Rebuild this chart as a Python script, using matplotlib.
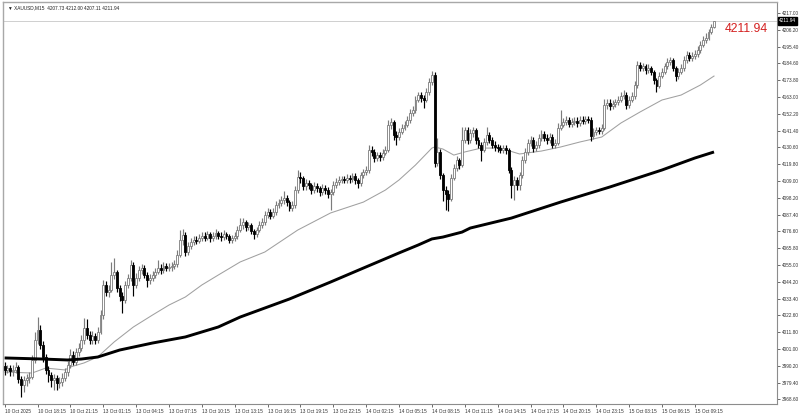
import matplotlib
matplotlib.use("Agg")
import matplotlib.pyplot as plt
import numpy as np

# ---------------- data ----------------
first_open = 3990.0
closes = [
    3987.6, 3988.9, 3986.9, 3987.6, 3989.5, 3981.8, 3977.9, 3981.1, 3982.4, 3983.0,
    3994.0, 4006.8, 4013.3, 4003.6, 3995.9, 3987.6, 3984.3, 3981.1, 3982.4, 3979.2,
    3979.8, 3982.4, 3986.2, 3990.8, 3997.2, 3992.7, 3999.1, 4001.7, 4006.8, 4014.6,
    4010.1, 4006.8, 4009.4, 4006.8, 4012.0, 4022.9, 4042.2, 4037.7, 4039.0, 4048.6,
    4050.5, 4040.3, 4035.1, 4032.5, 4042.2, 4046.7, 4055.0, 4042.2, 4046.7, 4051.8,
    4053.1, 4048.6, 4045.4, 4046.7, 4048.6, 4050.5, 4053.1, 4051.8, 4054.4, 4053.1,
    4053.8, 4054.4, 4055.7, 4061.5, 4071.1, 4074.3, 4063.4, 4067.2, 4069.8, 4071.1,
    4070.5, 4072.4, 4073.7, 4072.4, 4074.9, 4072.4, 4073.7, 4075.6, 4073.7, 4073.0,
    4074.9, 4073.7, 4071.1, 4072.4, 4073.7, 4077.5, 4080.8, 4082.7, 4079.5, 4080.8,
    4076.9, 4074.9, 4077.5, 4080.8, 4082.7, 4087.2, 4089.1, 4086.6, 4089.1, 4093.6,
    4094.9, 4096.8, 4098.1, 4095.5, 4091.7, 4093.6, 4103.2, 4111.6, 4110.9, 4105.8,
    4107.7, 4106.5, 4103.2, 4105.8, 4104.5, 4101.9, 4104.5, 4103.2, 4100.7, 4101.9,
    4106.5, 4108.4, 4109.7, 4110.3, 4109.7, 4111.0, 4110.3, 4112.3, 4109.7, 4107.7,
    4112.9, 4114.8, 4116.1, 4129.0, 4127.7, 4123.8, 4125.7, 4124.4, 4127.0, 4129.0,
    4145.0, 4147.0, 4138.6, 4137.3, 4140.5, 4143.1, 4145.0, 4148.2, 4152.7, 4154.7,
    4161.1, 4164.3, 4162.4, 4161.1, 4166.2, 4172.6, 4177.2, 4120.6, 4127.7, 4112.9,
    4103.2, 4101.0, 4097.5, 4111.0, 4117.4, 4122.5, 4119.3, 4135.4, 4141.8, 4135.4,
    4139.9, 4141.8, 4135.4, 4132.2, 4129.0, 4134.1, 4138.6, 4135.4, 4132.2, 4130.9,
    4130.2, 4129.0, 4130.2, 4129.0, 4116.1, 4106.5, 4109.7, 4106.5, 4112.9, 4122.5,
    4127.7, 4133.5, 4135.4, 4130.2, 4132.2, 4136.7, 4139.3, 4136.7, 4135.4, 4137.3,
    4132.2, 4133.5, 4143.1, 4145.0, 4147.0, 4148.2, 4145.6, 4147.0, 4147.6, 4146.3,
    4148.2, 4147.6, 4148.9, 4148.2, 4138.0, 4140.5, 4141.8, 4141.2, 4143.1, 4157.9,
    4159.2, 4157.2, 4158.5, 4159.8, 4161.1, 4163.7, 4164.3, 4157.9, 4161.1, 4163.7,
    4170.7, 4183.6, 4181.6, 4182.9, 4180.4, 4181.6, 4179.1, 4174.0, 4170.1, 4176.5,
    4179.1, 4182.9, 4185.5, 4186.8, 4181.6, 4176.5, 4179.1, 4181.6, 4186.8, 4190.0,
    4188.1, 4189.4, 4190.6, 4193.2, 4196.4, 4199.6, 4200.9, 4204.8, 4207.73, 4211.94,
]
highs = [
    3992.5, 3991.0, 3990.5, 3990.5, 3993.0, 3991.0, 3983.5, 3984.0, 3985.0, 3986.5,
    3997.0, 4012.0, 4021.6, 4016.5, 4006.0, 3998.0, 3990.0, 3986.5, 3985.0, 3984.5,
    3983.0, 3985.5, 3989.0, 3993.5, 4001.0, 4000.0, 4002.0, 4005.0, 4010.0, 4021.0,
    4020.5, 4012.5, 4012.5, 4011.5, 4015.0, 4026.0, 4045.5, 4044.5, 4042.0, 4057.0,
    4059.5, 4052.0, 4042.0, 4037.5, 4045.0, 4049.5, 4058.5, 4057.0, 4050.0, 4054.5,
    4056.0, 4055.0, 4050.5, 4049.0, 4051.0, 4053.0, 4058.5, 4055.5, 4057.0, 4056.5,
    4056.5, 4057.0, 4058.5, 4064.5, 4077.5, 4078.0, 4076.0, 4070.0, 4072.5, 4074.0,
    4073.5, 4075.0, 4076.5, 4076.0, 4077.0, 4076.5, 4076.0, 4078.0, 4077.0, 4076.0,
    4077.5, 4076.5, 4075.0, 4074.5, 4076.0, 4080.0, 4085.5, 4085.0, 4084.0, 4083.0,
    4082.0, 4078.5, 4079.5, 4083.5, 4085.0, 4090.0, 4092.0, 4091.0, 4091.5, 4096.0,
    4097.5, 4099.5, 4102.5, 4100.0, 4097.0, 4096.0, 4106.0, 4116.0, 4115.0, 4112.5,
    4110.5, 4110.0, 4108.0, 4108.5, 4107.5, 4106.0, 4107.0, 4106.5, 4105.0, 4104.0,
    4109.0, 4111.0, 4112.0, 4112.5, 4112.5, 4113.5, 4113.0, 4114.5, 4114.0, 4111.0,
    4115.0, 4117.0, 4118.5, 4132.0, 4131.5, 4129.5, 4128.0, 4127.5, 4129.5, 4131.5,
    4148.0, 4149.5, 4148.5, 4141.0, 4143.0, 4145.5, 4147.5, 4150.5, 4155.0, 4157.5,
    4163.5, 4166.5, 4166.0, 4164.5, 4168.5, 4175.0, 4179.5, 4179.0, 4136.5, 4129.5,
    4114.5, 4106.0, 4103.5, 4113.5, 4120.0, 4125.0, 4124.0, 4143.5, 4144.0, 4143.5,
    4142.5, 4144.0, 4143.0, 4137.0, 4134.0, 4136.5, 4143.5, 4140.5, 4137.0, 4134.5,
    4133.0, 4132.0, 4132.5, 4132.5, 4130.5, 4118.0, 4112.0, 4111.5, 4115.0, 4125.0,
    4130.0, 4136.0, 4138.0, 4137.0, 4134.5, 4139.5, 4142.0, 4141.0, 4139.0, 4140.0,
    4139.0, 4136.0, 4146.0, 4154.7, 4149.5, 4151.0, 4150.0, 4149.5, 4150.0, 4150.0,
    4150.5, 4150.5, 4151.0, 4151.0, 4150.0, 4143.0, 4144.0, 4144.0, 4145.5, 4162.0,
    4162.0, 4161.5, 4161.0, 4162.0, 4163.5, 4166.0, 4167.5, 4166.0, 4163.5, 4166.0,
    4173.0, 4186.0, 4185.5, 4185.0, 4184.5, 4184.0, 4183.0, 4180.5, 4175.5, 4179.0,
    4181.5, 4185.0, 4188.0, 4189.0, 4188.0, 4183.0, 4181.5, 4184.0, 4189.5, 4192.5,
    4192.0, 4192.0, 4193.5, 4196.0, 4199.0, 4202.5, 4204.0, 4207.0, 4210.0, 4212.00,
]
lows = [
    3984.5, 3985.5, 3984.0, 3983.5, 3985.5, 3979.5, 3970.0, 3973.5, 3977.0, 3979.0,
    3981.5, 3992.0, 4004.0, 4001.0, 3993.0, 3985.0, 3980.0, 3976.5, 3975.0, 3974.5,
    3976.0, 3977.0, 3980.5, 3984.0, 3989.0, 3990.5, 3991.0, 3996.5, 3999.5, 4004.5,
    4007.5, 4004.0, 4004.5, 4004.0, 4005.0, 4010.5, 4020.5, 4035.0, 4034.5, 4037.5,
    4046.0, 4038.0, 4032.0, 4024.0, 4030.5, 4040.0, 4045.0, 4035.0, 4040.0, 4045.0,
    4049.5, 4046.5, 4041.0, 4043.0, 4044.5, 4046.5, 4049.0, 4049.5, 4050.0, 4051.0,
    4051.0, 4051.5, 4052.5, 4054.0, 4060.0, 4068.0, 4061.0, 4061.5, 4065.5, 4068.0,
    4068.5, 4069.0, 4070.5, 4070.5, 4071.0, 4070.0, 4070.5, 4072.0, 4071.5, 4070.5,
    4071.0, 4071.5, 4069.0, 4069.5, 4070.5, 4072.0, 4076.0, 4078.5, 4077.0, 4077.5,
    4075.0, 4072.0, 4073.0, 4076.0, 4079.0, 4081.0, 4085.5, 4084.5, 4085.0, 4087.5,
    4091.5, 4093.0, 4094.5, 4093.0, 4089.5, 4090.0, 4092.0, 4101.5, 4107.5, 4103.5,
    4103.0, 4104.0, 4100.5, 4101.5, 4102.0, 4099.5, 4100.0, 4101.0, 4098.0, 4090.5,
    4100.0, 4104.5, 4106.5, 4107.5, 4107.5, 4108.0, 4108.0, 4108.5, 4107.0, 4104.5,
    4106.0, 4111.0, 4113.0, 4114.5, 4125.0, 4121.5, 4122.0, 4122.0, 4122.5, 4125.5,
    4127.5, 4142.5, 4135.5, 4132.5, 4135.5, 4139.0, 4141.5, 4143.5, 4146.5, 4151.0,
    4153.0, 4159.5, 4159.5, 4156.0, 4159.5, 4164.5, 4171.0, 4118.0, 4118.5, 4110.5,
    4096.5, 4090.4, 4090.0, 4096.0, 4109.5, 4115.5, 4116.5, 4118.0, 4133.5, 4133.0,
    4133.5, 4137.5, 4133.0, 4130.0, 4122.0, 4127.5, 4132.5, 4133.5, 4130.0, 4128.5,
    4128.0, 4127.0, 4127.0, 4126.5, 4114.0, 4098.0, 4097.0, 4103.5, 4103.2, 4111.0,
    4120.5, 4126.0, 4131.5, 4128.0, 4128.5, 4130.5, 4134.5, 4134.5, 4133.0, 4133.5,
    4130.0, 4130.5, 4132.0, 4141.5, 4143.5, 4145.0, 4143.5, 4143.5, 4145.0, 4144.0,
    4144.5, 4145.5, 4145.5, 4146.0, 4135.0, 4136.0, 4138.5, 4139.0, 4139.5, 4142.0,
    4155.5, 4154.5, 4155.0, 4156.5, 4158.0, 4159.5, 4161.5, 4155.0, 4156.0, 4159.5,
    4162.0, 4169.0, 4179.5, 4179.5, 4178.0, 4178.5, 4177.0, 4171.5, 4166.0, 4168.5,
    4175.0, 4177.5, 4181.0, 4183.5, 4179.5, 4173.0, 4174.5, 4177.5, 4180.0, 4185.0,
    4186.0, 4186.0, 4187.5, 4189.0, 4191.5, 4195.0, 4198.0, 4199.5, 4203.5, 4207.11,
]

# moving averages read at knot points (bar index, price)
ma_fast_idx = [0, 10, 15, 22, 24, 29, 34, 40, 47, 54, 60, 66, 72, 78, 86, 95, 107, 119,
               131, 139, 144, 150, 156, 157, 160, 164, 168, 174, 181, 188, 196, 203,
               210, 218, 225, 232, 240, 247, 254, 259]
ma_fast_val = [3986.3, 3985.6, 3988.8, 3987.6, 3989.5, 3992.1, 3996.0, 4005.6, 4015.2,
               4022.9, 4029.3, 4034.5, 4042.2, 4048.6, 4057.0, 4063.4, 4077.5, 4088.5,
               4095.5, 4103.2, 4109.7, 4119.3, 4130.2, 4130.9, 4129.6, 4125.7, 4127.7,
               4130.2, 4130.2, 4126.4, 4128.3, 4130.9, 4134.1, 4137.3, 4146.3, 4153.4,
               4161.1, 4164.3, 4170.7, 4176.5]
ma_slow_idx = [0, 14, 23, 28, 34, 42, 54, 66, 78, 86, 104, 119, 131, 144, 151, 156, 160,
               167, 170, 185, 203, 221, 240, 252, 259]
ma_slow_val = [3995.3, 3994.6, 3994.0, 3994.6, 3995.9, 4000.4, 4004.9, 4008.8, 4015.2,
               4021.6, 4033.2, 4044.1, 4053.1, 4062.8, 4067.9, 4071.8, 4073.0, 4076.2,
               4078.8, 4085.2, 4095.5, 4105.2, 4116.1, 4123.8, 4127.7]

x_labels = ["10 Oct 2025", "10 Oct 18:15", "10 Oct 21:15", "13 Oct 01:15", "13 Oct 04:15",
            "13 Oct 07:15", "13 Oct 10:15", "13 Oct 13:15", "13 Oct 16:15", "13 Oct 19:15",
            "13 Oct 22:15", "14 Oct 02:15", "14 Oct 05:15", "14 Oct 08:15", "14 Oct 11:15",
            "14 Oct 14:15", "14 Oct 17:15", "14 Oct 20:15", "14 Oct 23:15", "15 Oct 03:15",
            "15 Oct 06:15", "15 Oct 09:15"]
y_ticks = [3968.60, 3979.40, 3990.20, 4001.00, 4011.80, 4022.60, 4033.40, 4044.20, 4055.00,
           4065.80, 4076.60, 4087.40, 4098.20, 4109.00, 4119.80, 4130.60, 4141.40, 4152.20,
           4163.00, 4173.80, 4184.60, 4195.40, 4206.20, 4217.00]
title_text = "XAUUSD,M15  4207.73 4212.00 4207.11 4211.94"
last_price = 4211.94

# ---------------- figure ----------------
plt.rcParams['font.family'] = ['Liberation Sans', 'DejaVu Sans']
fig = plt.figure(figsize=(8.0, 4.15), dpi=100)
ax = fig.add_axes([0.00375, 0.0265, 0.9675, 0.9687])

n = len(closes)
idx = np.arange(n)
opens = [first_open] + closes[:-1]
o = np.array(opens); c = np.array(closes); h = np.array(highs); l = np.array(lows)
bull = c >= o
bear = ~bull

# wicks
ax.vlines(idx[bull], l[bull], h[bull], color='#7c7c7c', linewidth=0.85, zorder=3)
ax.vlines(idx[bear], l[bear], h[bear], color='#000000', linewidth=0.85, zorder=3)
# bodies
bw = 0.7
body_lo = np.minimum(o, c)
body_h = np.maximum(np.abs(c - o), 0.4)
ax.bar(idx[bull], body_h[bull], bottom=body_lo[bull], width=bw, facecolor='white',
       edgecolor='#7c7c7c', linewidth=0.6, zorder=4)
ax.bar(idx[bear], body_h[bear], bottom=body_lo[bear], width=bw, facecolor='black',
       edgecolor='black', linewidth=0.6, zorder=4)

# moving averages
ax.plot(ma_fast_idx, ma_fast_val, color='#a0a0a0', linewidth=0.75, zorder=2)
ax.plot(ma_slow_idx, ma_slow_val, color='black', linewidth=2.1, zorder=5,
        solid_capstyle='butt', solid_joinstyle='round')

# current price line
ax.axhline(last_price, color='#cfcfcf', linewidth=0.7, zorder=1)

ax.set_xlim(-0.6, 282)
ax.set_ylim(3965.7, 4224.1)

# spines
for s in ['left', 'top']:
    ax.spines[s].set_color('#a8a8a8')
    ax.spines[s].set_linewidth(1.0)
for s in ['right', 'bottom']:
    ax.spines[s].set_color('#8c8c8c')
    ax.spines[s].set_linewidth(0.8)

# y ticks on right
ax.yaxis.tick_right()
ax.set_yticks(y_ticks)
ax.set_yticklabels([f"{v:.2f}" for v in y_ticks])
ax.tick_params(axis='y', length=2, width=0.5, pad=1.5, labelsize=3.4,
               colors='#303030', direction='out')

# x ticks
ax.set_xticks(np.arange(len(x_labels)) * 12)
ax.set_xticklabels(x_labels)
ax.tick_params(axis='x', length=2, width=0.5, pad=1.5, labelsize=3.4,
               colors='#303030', direction='out')
for lab in ax.get_xticklabels():
    lab.set_horizontalalignment('left')

# price tag at right axis
ax.text(1.0025, last_price, f"{last_price:.2f}", transform=ax.get_yaxis_transform(),
        ha='left', va='center', fontsize=3.4, color='white', zorder=10,
        bbox=dict(boxstyle='square,pad=0.25', facecolor='black', edgecolor='black'),
        clip_on=False)

# title
ax.text(0.006, 0.993, "\u25BC " + title_text, transform=ax.transAxes, ha='left', va='top',
        fontsize=3.4, color='#202020')

# red big price
fig.text(746 / 800, 1 - 28.5 / 415, "4211.94", ha='center', va='center',
         fontsize=8.8, color='#d42020')

fig.savefig("out.png", dpi=100, facecolor='white')
